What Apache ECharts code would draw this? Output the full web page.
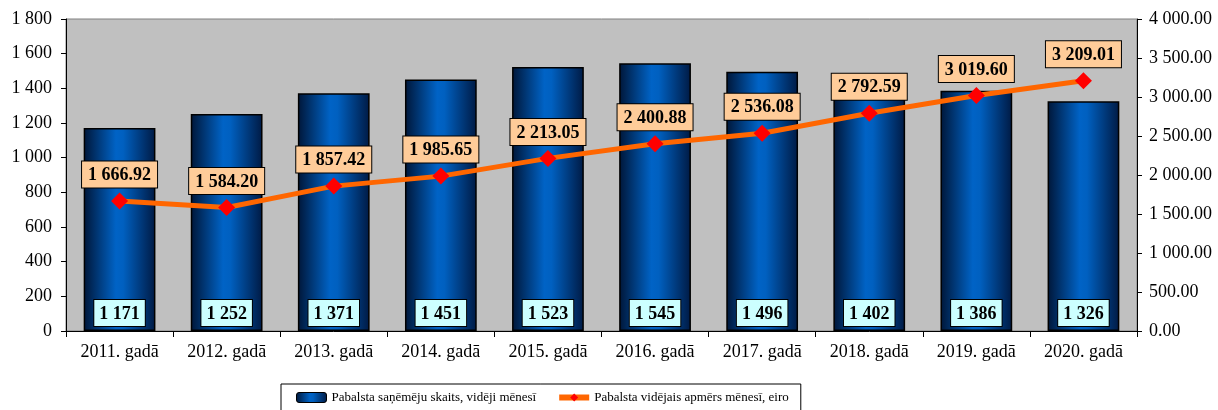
<!DOCTYPE html>
<html>
<head>
<meta charset="utf-8">
<script src="https://cdn.jsdelivr.net/npm/echarts@6/dist/echarts.min.js"></script>
<style>
html, body { margin: 0; padding: 0; background: #fff; }
#chart { width: 1218px; height: 410px; }
</style>
</head>
<body>
<div id="chart"></div>
<script>
'use strict';

var years = ['2011. gadā', '2012. gadā', '2013. gadā', '2014. gadā', '2015. gadā',
    '2016. gadā', '2017. gadā', '2018. gadā', '2019. gadā', '2020. gadā'];
var recipients = [1171, 1252, 1371, 1451, 1523, 1545, 1496, 1402, 1386, 1326];
var avgAmount = [1666.92, 1584.20, 1857.42, 1985.65, 2213.05, 2400.88, 2536.08, 2792.59, 3019.60, 3209.01];
var seriesNames = ['Pabalsta saņēmēju skaits, vidēji mēnesī', 'Pabalsta vidējais apmērs mēnesī, eiro'];

var serif = 'Liberation Serif';

// skaitļi ar atstarpi tūkstošiem
function fmt(v, dec) {
    var parts = v.toFixed(dec).split('.');
    parts[0] = parts[0].replace(/\B(?=(\d{3})+(?!\d))/g, ' ');
    return parts.join('.');
}

var chart = echarts.init(document.getElementById('chart'));

var barColor = new echarts.graphic.LinearGradient(0, 0, 1, 0, [
    { offset: 0, color: '#001638' },
    { offset: 0.45, color: '#0063c6' },
    { offset: 0.55, color: '#0060c0' },
    { offset: 1, color: '#001a44' }
]);

var option = {
    animation: false,
    textStyle: { fontFamily: serif, color: '#000' },
    grid: {
        left: 66,
        right: 81,
        top: 19,
        bottom: 79,
        show: true,
        backgroundColor: '#c0c0c0',
        borderColor: '#808080',
        borderWidth: 1
    },
    legend: {
        left: 281,
        top: 384,
        orient: 'horizontal',
        padding: [7, 12, 12, 15],
        itemGap: 20,
        itemWidth: 30,
        itemHeight: 10,
        borderColor: '#000',
        borderWidth: 1,
        backgroundColor: '#fff',
        textStyle: { fontFamily: serif, fontSize: 13, color: '#000' },
        data: [
            { name: seriesNames[0], itemStyle: { color: barColor, borderColor: '#000', borderWidth: 1 } },
            { name: seriesNames[1], lineStyle: { width: 6, color: '#ff6600' } }
        ]
    },
    xAxis: [{
        type: 'category',
        data: years,
        axisLine: { lineStyle: { color: '#000', width: 1 } },
        axisTick: { show: true, length: 6, lineStyle: { color: '#000' } },
        axisLabel: { fontFamily: serif, fontSize: 18, color: '#000', margin: 12 },
        splitLine: { show: false }
    }],
    yAxis: [{
        type: 'value',
        min: 0,
        max: 1800,
        interval: 200,
        axisLine: { show: true, lineStyle: { color: '#000' } },
        axisTick: { show: true, length: 5, lineStyle: { color: '#000' } },
        axisLabel: {
            fontFamily: serif, fontSize: 18, color: '#000', margin: 14,
            formatter: function (v) { return fmt(v, 0); }
        },
        splitLine: { show: false }
    }, {
        type: 'value',
        min: 0,
        max: 4000,
        interval: 500,
        position: 'right',
        axisLine: { show: true, lineStyle: { color: '#000' } },
        axisTick: { show: true, length: 5, lineStyle: { color: '#000' } },
        axisLabel: {
            fontFamily: serif, fontSize: 18, color: '#000', margin: 12,
            formatter: function (v) { return fmt(v, 2); }
        },
        splitLine: { show: false }
    }],
    series: [{
        name: seriesNames[0],
        type: 'bar',
        yAxisIndex: 0,
        barWidth: '67%',
        data: recipients,
        itemStyle: {
            color: barColor,
            borderColor: '#000',
            borderWidth: 1.5
        },
        label: {
            show: true,
            position: 'insideBottom',
            distance: 5,
            fontFamily: serif,
            fontSize: 18,
            fontWeight: 'bold',
            color: '#000',
            backgroundColor: '#ccffff',
            borderColor: '#000',
            borderWidth: 1,
            padding: [5, 5, 3, 5],
            formatter: function (p) { return fmt(p.value, 0); }
        }
    }, {
        name: seriesNames[1],
        type: 'line',
        yAxisIndex: 1,
        data: avgAmount,
        symbol: 'diamond',
        symbolSize: 17,
        itemStyle: { color: '#ff0000' },
        lineStyle: { color: '#ff6600', width: 5 },
        z: 5,
        label: {
            show: true,
            position: 'top',
            distance: 5,
            fontFamily: serif,
            fontSize: 18,
            fontWeight: 'bold',
            color: '#000',
            backgroundColor: '#ffcc99',
            borderColor: '#000',
            borderWidth: 1,
            padding: [5, 6, 3, 6],
            formatter: function (p) { return fmt(p.value, 2); }
        }
    }]
};

chart.setOption(option);
</script>
</body>
</html>
